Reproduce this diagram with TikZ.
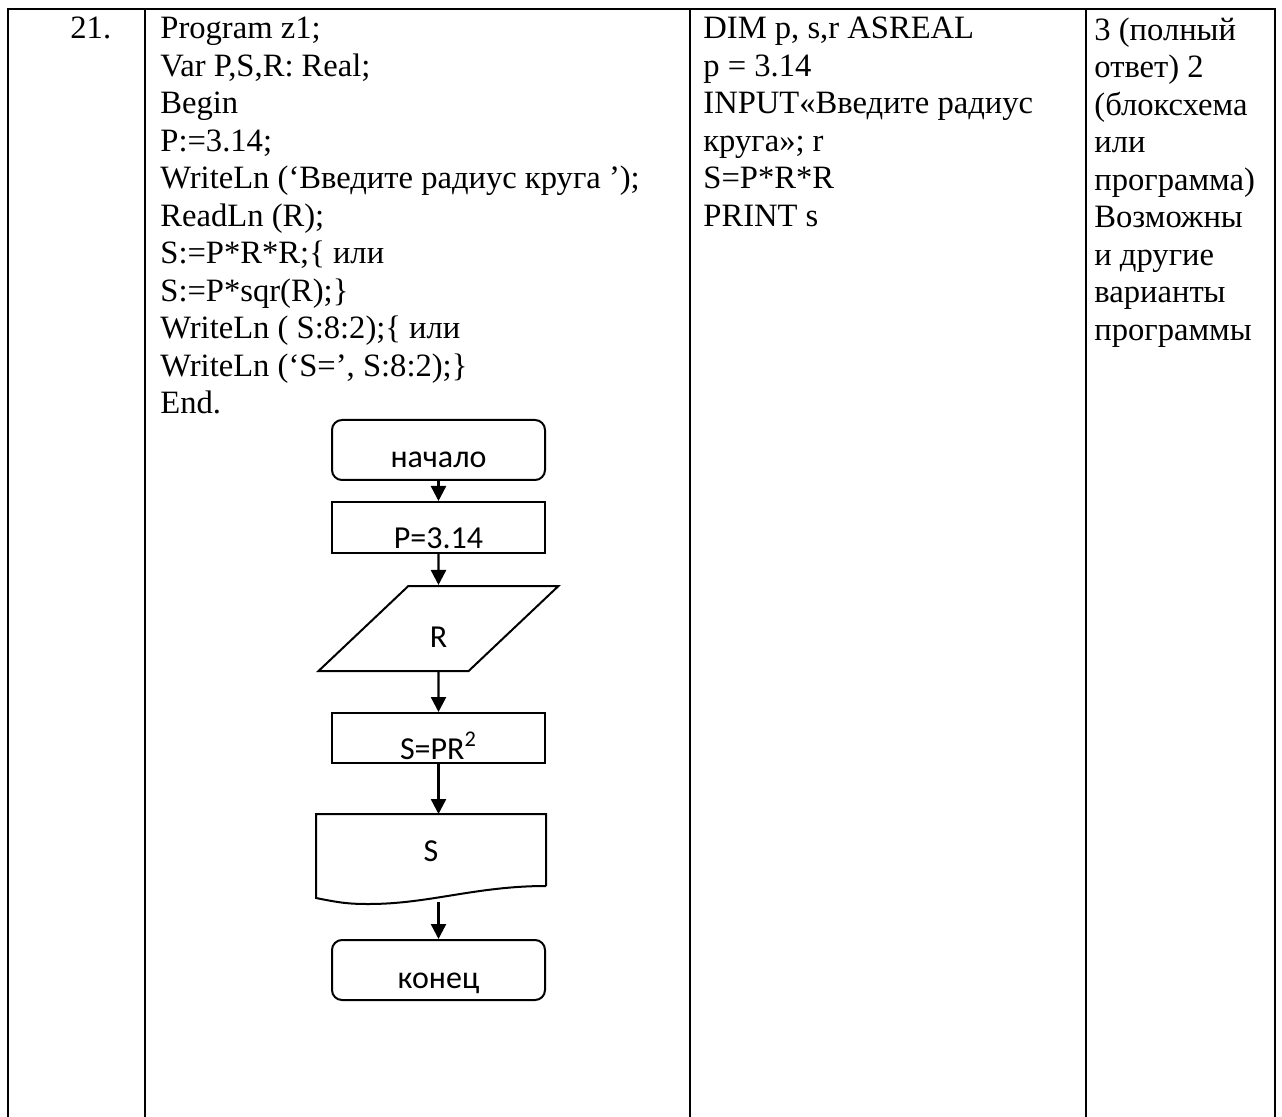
\documentclass[tikz,border=0pt]{standalone}
\usepackage{fontspec}
\setmainfont{Liberation Serif}
\newfontfamily\flujo{Carlito}
\usetikzlibrary{arrows.meta,calc,positioning,shapes.geometric}
\tikzset{
  celda/.style={
    anchor=north west,
    align=left,
    inner sep=0pt,
    font=\fontsize{16.3}{18.75}\selectfont
  },
  marco/.style={
    line width=1.3pt,
    line cap=rect
  },
  bloque/.style={
    draw,
    line width=1pt,
    minimum width=106.5pt,
    inner sep=0pt,
    text depth=0pt,
    font=\flujo\fontsize{16}{18}\selectfont
  },
  terminal/.style={
    bloque,
    rounded corners=5pt,
    minimum height=30pt
  },
  entrada/.style={
    bloque,
    trapezium,
    trapezium left angle=55,
    trapezium right angle=125,
    trapezium stretches=true,
    minimum width=120pt,
    minimum height=42.5pt
  },
  salida/.style={
    bloque,
    draw=none,
    minimum width=114pt,
    minimum height=35pt
  },
  arrow/.style={
    -{Triangle[width=7.5pt,length=7.5pt]},
    line width=1.2pt
  }
}
\begin{document}
\begin{tikzpicture}[x=0.5pt,y=0.5pt]
\useasboundingbox (0,0) rectangle (1282,-1117);
% tabla
\draw[marco] (8,-9) -- (1275,-9);
\foreach \x in {8,145,690,1086,1275}
  \draw[marco] (\x,-9) -- (\x,-1130);
\node[celda] (num) at (70,-17) {21.};
\node[celda] (pascal) at (160,-17) {Program z1;\\
Var P,S,R: Real;\\
Begin\\
P:=3.14;\\
WriteLn (‘Введите радиус круга ’);\\
ReadLn (R);\\
S:=P*R*R;\{ или\\
S:=P*sqr(R);\}\\
WriteLn ( S:8:2);\{ или\\
WriteLn (‘S=’, S:8:2);\}\\
End.};
\node[celda] (basic) at (703,-17) {DIM p, s,r ASREAL\\
p = 3.14\\
INPUT«Введите радиус\\
круга»; r\\
S=P*R*R\\
PRINT s};
\node[celda] (nota) at (1094,-17) {3 (полный\\
ответ) 2\\
(блоксхема\\
или\\
программа)\\
Возможны\\
и другие\\
варианты\\
программы};
% блок-схема
\node[terminal, text height=18pt] (inicio) at (438.5,-450) {начало};
\node[bloque, minimum height=25.5pt, text height=21.5pt, below=10pt of inicio] (pi) {P=3.14};
\node[entrada, text height=18.5pt, below=15.5pt of pi] (radio) {R};
\node[bloque, minimum height=25pt, text height=21pt, below=20pt of radio] (area) {S=PR\textsuperscript{2}};
\node[salida, text height=11pt, below=25pt of area, xshift=-3.75pt] (res) {S};
\node[terminal, text height=18.5pt, below=26.5pt of res, xshift=3.75pt] (fin) {конец};
\draw[line width=1pt] (res.south east) -- (res.north east) -- (res.north west)
  -- ($(res.south west)+(0,-12)$)
  .. controls +(25,-5) and +(-20,0) .. ($(res.south west)+(53,-18)$)
  .. controls +(60,0) and +(-70,0) .. (res.south east);
\coordinate (resb) at ($(area.south |- res.south)+(0,-16)$);
\draw[arrow] (inicio) -- (pi);
\draw[arrow] (pi) -- (radio);
\draw[arrow] (radio) -- (area);
\draw[arrow] (area.south) -- (area.south |- res.north);
\draw[arrow] (resb) -- (fin);
\end{tikzpicture}
\end{document}
